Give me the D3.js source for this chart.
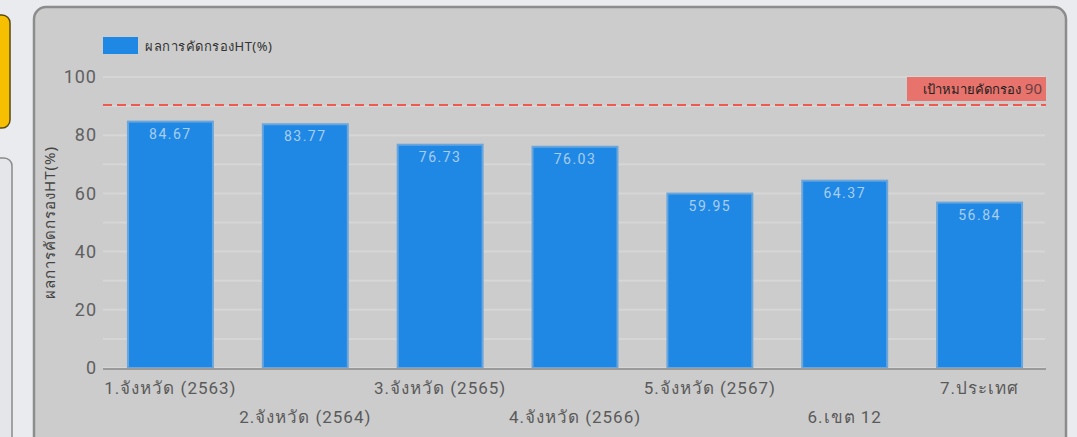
<!DOCTYPE html>
<html>
<head>
<meta charset="utf-8">
<script src="https://cdn.jsdelivr.net/npm/d3@7"></script>
<style>
  html, body { margin: 0; padding: 0; background: #e9ebee; }
  svg { display: block; font-family: "Noto Sans", "DejaVu Sans", sans-serif; }
</style>
</head>
<body>
<svg id="chart" width="1077" height="437"></svg>
<script>
// Screening results by period
const categories = ["1.จังหวัด (2563)", "2.จังหวัด (2564)", "3.จังหวัด (2565)", "4.จังหวัด (2566)", "5.จังหวัด (2567)", "6.เขต 12", "7.ประเทศ"];
const values = [84.67, 83.77, 76.73, 76.03, 59.95, 64.37, 56.84];
const yTicks = [0, 20, 40, 60, 80, 100];
const target = 90;
const seriesName = "ผลการคัดกรองHT(%)";
const targetLabel = "เป้าหมายคัดกรอง";

const svg = d3.select("#chart");

// side cards on the dashboard
svg.append("rect").attr("x", -20).attr("y", 15).attr("width", 30).attr("height", 113)
  .attr("rx", 8).attr("fill", "#f6c000").attr("stroke", "#5a4a10").attr("stroke-width", 1.5);
svg.append("rect").attr("x", -20).attr("y", 158).attr("width", 32).attr("height", 300)
  .attr("rx", 8).attr("fill", "#e4e6ea").attr("stroke", "#8a8a8a").attr("stroke-width", 1.5);

// chart panel
svg.append("rect").attr("x", 34).attr("y", 7).attr("width", 1032).attr("height", 445)
  .attr("rx", 12).attr("fill", "#cccccc").attr("stroke", "#8c8c8c").attr("stroke-width", 2.5);

const x = d3.scaleBand().domain(categories).range([103, 1047]).paddingInner(0.37).paddingOuter(0.185);
const y = d3.scaleLinear().domain([0, 100]).range([368, 77]);

// grid
const grid = svg.append("g");
grid.selectAll("line").data(d3.range(0, 101, 10)).join("line")
  .attr("x1", 103).attr("x2", 1045)
  .attr("y1", d => y(d)).attr("y2", d => y(d))
  .attr("stroke", "#d6d6d6").attr("stroke-width", 2);

// y axis
const yAxis = svg.append("g").attr("transform", "translate(103,0)")
  .call(d3.axisLeft(y).tickValues(yTicks).tickSize(0).tickPadding(6));
yAxis.select(".domain").remove();
yAxis.selectAll("text").attr("fill", "#606060").attr("font-size", 18)
  .attr("letter-spacing", 1)
  .attr("font-family", "Roboto, 'Noto Sans', sans-serif");

svg.append("text")
  .attr("transform", `translate(55,${(y(0) + y(100)) / 2}) rotate(-90)`)
  .attr("text-anchor", "middle").attr("font-size", 15).attr("fill", "#444")
  .attr("letter-spacing", 1)
  .text(seriesName);

// bars
svg.append("g").selectAll("rect").data(values).join("rect")
  .attr("x", (d, i) => x(categories[i]))
  .attr("y", d => y(d))
  .attr("width", x.bandwidth())
  .attr("height", d => y(0) - y(d))
  .attr("fill", "#1f88e4")
  .attr("stroke", "#6aa6dc").attr("stroke-width", 2);

// value labels
svg.append("g").selectAll("text").data(values).join("text")
  .attr("x", (d, i) => x(categories[i]) + x.bandwidth() / 2)
  .attr("y", d => y(d) + 17)
  .attr("text-anchor", "middle").attr("font-size", 14)
  .attr("letter-spacing", 1.5)
  .attr("fill", "#a9cdf0")
  .attr("font-family", "Roboto, 'Noto Sans', sans-serif")
  .text(d => d.toFixed(2));

// baseline
svg.append("line").attr("x1", 103).attr("x2", 1046).attr("y1", y(0) + 1).attr("y2", y(0) + 1)
  .attr("stroke", "#9a9a9a").attr("stroke-width", 2);

// x labels, staggered on two rows
svg.append("g").selectAll("text").data(categories).join("text")
  .attr("x", d => x(d) + x.bandwidth() / 2)
  .attr("y", (d, i) => i % 2 === 0 ? 394 : 423)
  .attr("text-anchor", "middle").attr("font-size", 17).attr("fill", "#5a5a5a")
  .attr("letter-spacing", 1)
  .attr("font-family", "Roboto, 'Noto Sans', sans-serif")
  .text(d => d);

// target line
svg.append("line").attr("x1", 103).attr("x2", 1046)
  .attr("y1", y(target) - 1).attr("y2", y(target) - 1)
  .attr("stroke", "#ee5a50").attr("stroke-width", 2).attr("stroke-dasharray", "9,5");
svg.append("rect").attr("x", 907).attr("y", 77).attr("width", 139).attr("height", 24)
  .attr("fill", "#e8736c");
const tl = svg.append("text").attr("x", 1042).attr("y", 94).attr("text-anchor", "end")
  .attr("font-size", 13);
tl.append("tspan").attr("fill", "#222").text(targetLabel + " ");
tl.append("tspan").attr("fill", "#6a4040").attr("font-size", 15).text(target);

// legend
svg.append("rect").attr("x", 103).attr("y", 37).attr("width", 35).attr("height", 17).attr("fill", "#1f88e4");
svg.append("text").attr("x", 145).attr("y", 51).attr("font-size", 13).attr("fill", "#333")
  .attr("letter-spacing", 0.5).text(seriesName);
</script>
</body>
</html>
